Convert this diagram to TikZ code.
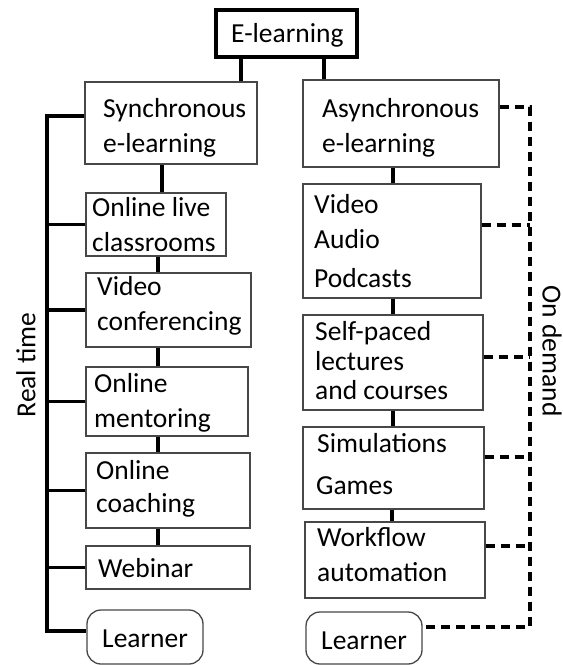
\documentclass[tikz,border=0pt]{standalone}
\usepackage{fontspec}
\setmainfont{Carlito}
\usetikzlibrary{fit}
\begin{document}
\begin{tikzpicture}[x=1pt,y=-1pt,
  box/.style={draw=black!72,line width=1.3pt,inner sep=0pt,fill=white},
  topbox/.style={draw=black,line width=3.6pt,inner sep=0pt},
  roundbox/.style={box,rounded corners=14pt},
  txt/.style={anchor=base west,inner sep=0pt,font=\fontsize{27.5}{33}\selectfont},
  lbl/.style={inner sep=0pt,font=\fontsize{27.5}{33}\selectfont},
  conn/.style={draw=black,line width=3.4pt},
  dsh/.style={draw=black,line width=3.4pt,dash pattern=on 9pt off 6pt}]
\useasboundingbox (0,0) rectangle (563,665);
% boxes
\node[topbox,fit={(216,10) (357,57)}] (el) {};
\node[box,fit={(85,82) (257,164)}] (sync) {};
\node[box,fit={(86,193) (226,256)}] (olc) {};
\node[box,fit={(86,273) (251,347)}] (vc) {};
\node[box,fit={(86,367) (248,436)}] (om) {};
\node[box,fit={(86,453) (250,528)}] (oc) {};
\node[box,fit={(86,546) (250,589)}] (web) {};
\node[roundbox,fit={(87,610) (203,664)}] (lrnL) {};
\node[box,fit={(303,80) (499,167)}] (async) {};
\node[box,fit={(303,184) (481,298)}] (vap) {};
\node[box,fit={(303,315) (483,410)}] (spl) {};
\node[box,fit={(303,427) (484,509)}] (sim) {};
\node[box,fit={(305,522) (485,598)}] (wfa) {};
\node[roundbox,fit={(306,612) (422,664)}] (lrnR) {};
% texts
\node[txt] (t0) at (231,42) {E-learning};
\node[txt] (t1) at (103,117) {Synchronous};
\node[txt] (t2) at (103,152) {e-learning};
\node[txt] (t3) at (92,216) {Online live};
\node[txt] (t4) at (92,251) {classrooms};
\node[txt] (t5) at (97,295) {Video};
\node[txt] (t6) at (97,330) {conferencing};
\node[txt] (t7) at (94,392) {Online};
\node[txt] (t8) at (94,427) {mentoring};
\node[txt] (t9) at (96,479) {Online};
\node[txt] (t10) at (96,512) {coaching};
\node[txt] (t11) at (98,577) {Webinar};
\node[txt] (t12) at (102,647) {Learner};
\node[txt] (t13) at (322,117) {Asynchronous};
\node[txt] (t14) at (322,152) {e-learning};
\node[txt] (t15) at (314,213) {Video};
\node[txt] (t16) at (314,248) {Audio};
\node[txt] (t17) at (314,287) {Podcasts};
\node[txt] (t18) at (315,340) {Self-paced};
\node[txt] (t19) at (315,370) {lectures};
\node[txt] (t20) at (315,399) {and courses};
\node[txt] (t21) at (317,452) {Simulations};
\node[txt] (t22) at (316,494) {Games};
\node[txt] (t23) at (317,546) {Workflow};
\node[txt] (t24) at (317,581) {automation};
\node[txt] (t25) at (321,649) {Learner};
\node[lbl,rotate=90] (rt) at (26,365) {Real time};
\node[lbl,rotate=-90] (od) at (552,351) {On demand};
% connector x positions
\coordinate (xa) at (241,0);
\coordinate (xb) at (324,0);
\coordinate (xc) at (162,0);
\coordinate (xd) at (158,0);
\coordinate (xe) at (393,0);
\coordinate (xf) at (392,0);
% vertical connectors
\draw[conn] (el.south -| xa) -- (sync.north -| xa);
\draw[conn] (el.south -| xb) -- (async.north -| xb);
\draw[conn] (sync.south -| xc) -- (olc.north -| xc);
\draw[conn] (olc.south -| xd) -- (vc.north -| xd);
\draw[conn] (vc.south -| xd) -- (om.north -| xd);
\draw[conn] (om.south -| xd) -- (oc.north -| xd);
\draw[conn] (oc.south -| xd) -- (web.north -| xd);
\draw[conn] (async.south -| xe) -- (vap.north -| xe);
\draw[conn] (vap.south -| xe) -- (spl.north -| xe);
\draw[conn] (spl.south -| xe) -- (sim.north -| xe);
\draw[conn] (sim.south -| xf) -- (wfa.north -| xf);
% real-time spine
\coordinate (s0) at (47,116);
\coordinate (s6) at (47,631);
\draw[conn] (sync.west |- s0) -- (s0) -- (s6) -- (lrnL.west |- s6);
\draw[conn] (olc.west) -- (olc.west -| s0);
\draw[conn] (vc.west) -- (vc.west -| s0);
\draw[conn] (om.west) -- (om.west -| s0);
\draw[conn] (oc.west) -- (oc.west -| s0);
\draw[conn] (web.west) -- (web.west -| s0);
% on-demand spine
\coordinate (d0) at (530,107);
\coordinate (d1) at (530,225);
\coordinate (d2) at (530,357);
\coordinate (d3) at (530,457);
\coordinate (d4) at (530,546);
\coordinate (d5) at (530,627);
\draw[dsh] (async.east |- d0) -- (d0) -- (d5) -- (lrnR.east |- d5);
\draw[dsh] (vap.east |- d1) -- (d1);
\draw[dsh] (spl.east |- d2) -- (d2);
\draw[dsh] (sim.east |- d3) -- (d3);
\draw[dsh] (wfa.east |- d4) -- (d4);
\end{tikzpicture}
\end{document}
